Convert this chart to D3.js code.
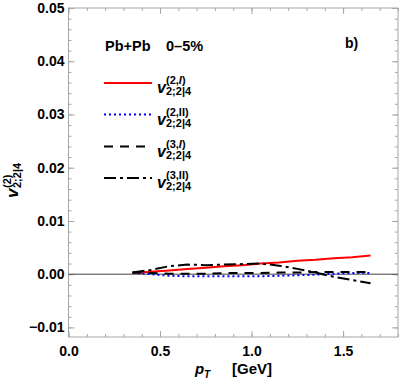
<!DOCTYPE html>
<html>
<head>
<meta charset="utf-8">
<script src="https://cdn.jsdelivr.net/npm/d3@7"></script>
<style>
  body { margin: 0; background: #fff; }
  text { font-family: "Liberation Sans", Arial, sans-serif; font-weight: bold; fill: #000; }
</style>
</head>
<body>
<div class="chart"></div>
<script>
// pT grid (GeV) and the four curves
const pT = [0.35, 0.45, 0.55, 0.65, 0.75, 0.85, 0.95, 1.05, 1.15, 1.25, 1.35, 1.45, 1.55, 1.65]
const v2I   = [0.0002, 0.00045, 0.0007, 0.00096, 0.0012, 0.00147, 0.0017, 0.0020, 0.0022, 0.0025, 0.0027, 0.0030, 0.0032, 0.0035]
const v2II  = [0.0003, 0.0000, -0.0003, -0.0004, -0.0004, -0.0004, -0.0004, -0.0004, -0.0003, -0.0002, -0.0001, 0.0001, 0.0002, 0.0002]
const v3I   = [0.0003, 0.0002, 0.0001, 0.0001, 0.0001, 0.0002, 0.0002, 0.0002, 0.0003, 0.0003, 0.0004, 0.0004, 0.0004, 0.0004]
const v3II  = [0.0003, 0.0008, 0.0015, 0.0018, 0.0017, 0.0018, 0.0019, 0.0020, 0.0016, 0.0010, 0.0003, -0.0005, -0.0011, -0.0017]

const xTicks = [0, 0.5, 1.0, 1.5]
const yTicks = [-0.01, 0, 0.01, 0.02, 0.03, 0.04, 0.05]
const seriesNames = ['2,I', '2,II', '3,I', '3,II']

const w = 399, h = 380
const m = {left: 68.5, right: 1, top: 8, bottom: 43}

const series = [
  {name: seriesNames[0], vals: v2I,  color: '#ff0000', dash: null,      width: 2},
  {name: seriesNames[1], vals: v2II, color: '#0000ff', dash: '2,3',     width: 2},
  {name: seriesNames[2], vals: v3I,  color: '#000',    dash: '9,7',     width: 2},
  {name: seriesNames[3], vals: v3II, color: '#000',    dash: '12,4,3,4', width: 2}
]

const svg = d3.select('.chart').append('svg').attr('width', w).attr('height', h)

const x = d3.scaleLinear().domain([0, 1.8]).range([m.left, w - m.right])
const y = d3.scaleLinear().domain([-0.0118, 0.05]).range([h - m.bottom, m.top])

const frameCol = '#a6a6a6'
const minorX = d3.range(0, 1.81, 0.1)
const minorY = d3.range(-0.01, 0.0501, 0.002)

function ticks(axis, vals, size, tr) {
  const g = svg.append('g').attr('transform', tr)
    .call(axis.tickValues(vals).tickSize(size).tickFormat(''))
  g.select('.domain').remove()
  g.selectAll('line').attr('stroke', frameCol)
  return g
}
// inward ticks on all four sides
ticks(d3.axisBottom(x), minorX, -3, `translate(0,${y.range()[0]})`)
ticks(d3.axisBottom(x), xTicks, -6, `translate(0,${y.range()[0]})`)
ticks(d3.axisTop(x), minorX, -3, `translate(0,${m.top})`)
ticks(d3.axisTop(x), xTicks, -6, `translate(0,${m.top})`)
ticks(d3.axisLeft(y), minorY, -3, `translate(${m.left},0)`)
ticks(d3.axisLeft(y), yTicks, -6, `translate(${m.left},0)`)
ticks(d3.axisRight(y), minorY, -3, `translate(${w - m.right},0)`)
ticks(d3.axisRight(y), yTicks, -6, `translate(${w - m.right},0)`)

svg.append('rect')
  .attr('x', m.left).attr('y', m.top)
  .attr('width', w - m.right - m.left).attr('height', y.range()[0] - m.top)
  .attr('fill', 'none').attr('stroke', frameCol)

// tick labels
const xl = svg.append('g').attr('transform', `translate(0,${y.range()[0]})`)
  .call(d3.axisBottom(x).tickValues(xTicks).tickSize(0).tickPadding(9).tickFormat(d3.format('.1f')))
xl.select('.domain').remove()
xl.selectAll('text').style('font-size', '14px')

const yl = svg.append('g').attr('transform', `translate(${m.left},0)`)
  .call(d3.axisLeft(y).tickValues(yTicks).tickSize(0).tickPadding(4).tickFormat(d3.format('.2f')))
yl.select('.domain').remove()
yl.selectAll('text').style('font-size', '14px')

// zero line
svg.append('line')
  .attr('x1', x(0)).attr('x2', x(1.8)).attr('y1', y(0)).attr('y2', y(0))
  .attr('stroke', '#444').attr('stroke-width', 1)

const line = d3.line().x((d, i) => x(pT[i])).y(d => y(d))
series.forEach(s => {
  svg.append('path')
    .attr('d', line(s.vals))
    .attr('fill', 'none')
    .attr('stroke', s.color)
    .attr('stroke-width', s.width)
    .attr('stroke-dasharray', s.dash)
})

// legend
svg.append('text').attr('x', 105).attr('y', 51).style('font-size', '14.5px').text('Pb+Pb')
svg.append('text').attr('x', 166).attr('y', 51).style('font-size', '14.5px').text('0–5%')
svg.append('text').attr('x', 345).attr('y', 48).style('font-size', '14px').text('b)')

const rowY = [83, 114.5, 146.5, 178]
series.forEach((s, i) => {
  const g = svg.append('g').attr('transform', `translate(104,${rowY[i]})`)
  g.append('line').attr('x1', 0).attr('x2', 48)
    .attr('stroke', s.color).attr('stroke-width', s.width)
    .attr('stroke-dasharray', s.dash)
  g.append('text').attr('x', 53).attr('y', 10).style('font-size', '16px').style('font-style', 'italic').text('v')
  const parts = s.name.split(',')
  const sup = g.append('text').attr('x', 62).attr('y', 1).style('font-size', '11px')
  sup.append('tspan').text('(' + parts[0] + ',')
  sup.append('tspan').style('font-style', parts[1] === 'I' ? 'italic' : 'normal').text(parts[1])
  sup.append('tspan').text(')')
  g.append('text').attr('x', 62).attr('y', 12).style('font-size', '11px').text('2;2|4')
})

// axis titles
const yt = svg.append('g').attr('transform', 'translate(18,198) rotate(-90)')
yt.append('text').attr('x', 0).attr('y', 0).style('font-size', '17px').style('font-style', 'italic').text('v')
yt.append('text').attr('x', 10).attr('y', -7).style('font-size', '11px').text('(2)')
yt.append('text').attr('x', 10).attr('y', 3).style('font-size', '11px').text('2;2|4')

svg.append('text').attr('x', 195).attr('y', 374).style('font-size', '15px').style('font-style', 'italic').text('p')
svg.append('text').attr('x', 204).attr('y', 378).style('font-size', '10px').style('font-style', 'italic').text('T')
svg.append('text').attr('x', 232).attr('y', 374).style('font-size', '15px').text('[GeV]')
</script>
</body>
</html>
